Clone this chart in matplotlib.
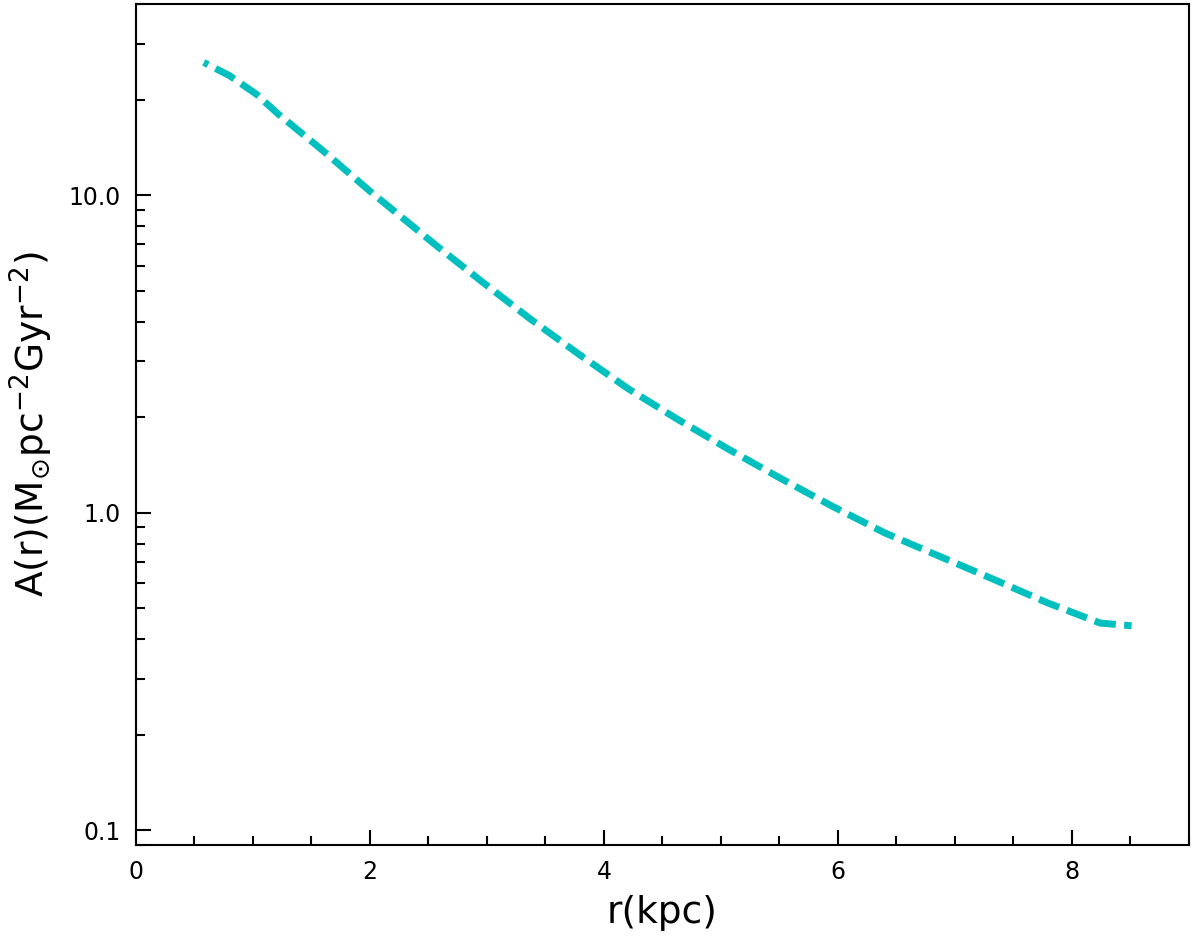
import numpy as np
import matplotlib.pyplot as plt
from matplotlib.ticker import FormatStrFormatter, MultipleLocator, LogLocator, NullFormatter

# values
r_kpc = [0.58, 0.80, 1.03, 1.21, 1.60, 2.00, 2.57, 2.97, 3.37, 3.78, 4.20,
         4.62, 5.06, 5.50, 5.95, 6.40, 6.86, 7.32, 7.79, 8.24, 8.51]
A_r = [26.2, 23.8, 20.8, 18.1, 13.8, 10.3, 6.93, 5.30, 4.08, 3.17, 2.47,
       1.98, 1.59, 1.29, 1.05, 0.865, 0.732, 0.620, 0.521, 0.450, 0.441]

fig = plt.figure(figsize=(12, 9.47), dpi=100)
ax = fig.add_axes([0.1133, 0.1077, 0.8775, 0.888])

ax.plot(r_kpc, A_r, color='c', lw=5, linestyle=(2.4, (3.1, 1.2)))

ax.set_yscale('log')
ax.set_xlim(0, 9)
ax.set_ylim(0.09, 40)

ax.xaxis.set_major_locator(MultipleLocator(2))
ax.xaxis.set_minor_locator(MultipleLocator(0.5))
ax.yaxis.set_major_locator(LogLocator(base=10))
ax.yaxis.set_minor_locator(LogLocator(base=10, subs=np.arange(2, 10)))
ax.yaxis.set_major_formatter(FormatStrFormatter('%.1f'))
ax.yaxis.set_minor_formatter(NullFormatter())

ax.tick_params(which='both', direction='in', top=False, right=False, width=1.5,
               labelsize=17, pad=11)
ax.tick_params(which='major', length=11)
ax.tick_params(which='minor', length=6.5)
for s in ax.spines.values():
    s.set_linewidth(1.5)

ax.set_xlabel('r(kpc)', fontsize=27, labelpad=8)
ax.set_ylabel(r'A(r)(M$_{\odot}$pc$^{-2}$Gyr$^{-2}$)', fontsize=27, labelpad=10)

fig.savefig('out.png', dpi=100)
